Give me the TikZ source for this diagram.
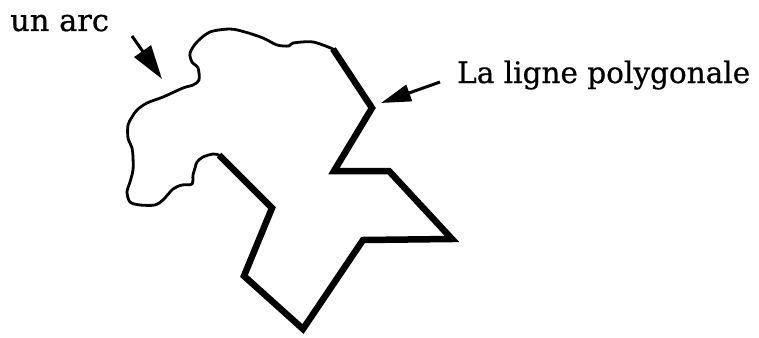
\documentclass[tikz,border=0pt]{standalone}
\usepackage{fontspec}
\setmainfont{DejaVu Serif}[FakeBold=0.6]
\usetikzlibrary{arrows.meta}
\tikzset{
  poly/.style={line width=6.5pt, line join=miter, line cap=butt},
  arcline/.style={line width=2.8pt, line join=round, line cap=round},
  label/.style={anchor=base west, inner sep=0pt},
  pointer/.style={line width=3pt}
}
\begin{document}
\begin{tikzpicture}[x=1pt,y=-1pt]
\useasboundingbox (0,0) rectangle (759,337);
% polygonal line
\draw[poly] (333,49) -- (372,108) -- (334,171) -- (389,171) -- (452,239) -- (363,240)
  -- (303,329) -- (244,276) -- (272,208) -- (219,155);
% arc
\draw[arcline] plot[smooth, tension=0.5] coordinates {
 (333,49) (313,42) (293,43) (289,46) (277,45) (263,38) (245,32) (230,29) (210,32)
 (197,42) (190,53) (192,62) (198,68) (199,80) (193,85) (183,88) (163,97) (147,103)
 (137,110) (132,117) (128,125) (128,138) (132,148) (133,157) (133,170) (130,182)
 (127,192) (130,202) (140,205) (155,205) (163,200) (173,189) (182,185) (192,184)
 (193,175) (195,168) (197,162) (203,157) (213,154) (219,155)};
% labels
\node[label, font=\fontsize{30.5}{32}\selectfont] (arc) at (10,31) {un arc};
\node[label, font=\fontsize{29.5}{31}\selectfont] (ligne) at (457,83) {La ligne polygonale};
\coordinate (arcTail) at (132,36);
\coordinate (arcTip) at (162,79);
\coordinate (ligneTail) at (440,82);
\coordinate (ligneTip) at (381,103);
\draw[pointer, -{Triangle[length=34pt,width=20pt]}] (arcTail) -- (arcTip);
\draw[pointer, -{Triangle[length=30pt,width=17pt]}] (ligneTail) -- (ligneTip);
\end{tikzpicture}
\end{document}
